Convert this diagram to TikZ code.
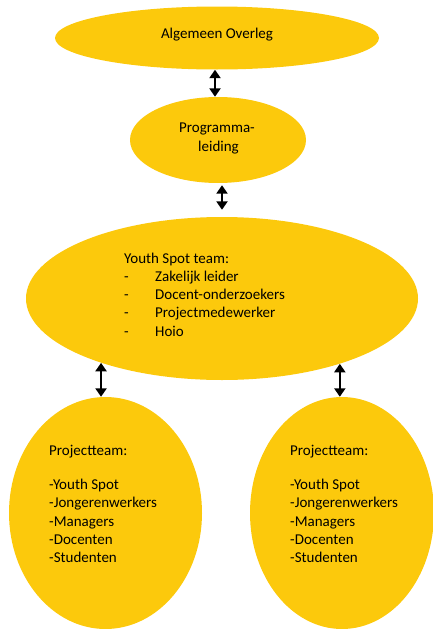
\documentclass[tikz,border=0pt]{standalone}
\usepackage{fontspec}
\setmainfont{Carlito}
\usetikzlibrary{shapes.geometric,arrows.meta}
\definecolor{spotyellow}{HTML}{FCC90C}
\begin{document}
\begin{tikzpicture}
[x=1pt,y=-1pt,%
  blobdecorate/.style={shape=ellipse,fill=spotyellow,draw=none,inner sep=0pt},%
  textdecorate/.style={anchor=base west,inner sep=0pt,text=black,font=\fontsize{15}{18}\selectfont},%
  arrowdecorate/.style={{Triangle[width=11pt,length=8.5pt]}-{Triangle[width=11pt,length=8.5pt]},line width=2.4pt}]
\useasboundingbox (0,0) rectangle (432,629);
%% ellipses
\foreach \nodename/\x/\y/\rx/\ry in {
  overleg/217/38/162/31.5, programma/218/140/88/43,
  youthspot/222/298.5/196/81.5,
  teamleft/105.5/513/96.5/116, teamright/342/513/92/116}
{
  \node (\nodename) at (\x,\y) [blobdecorate,minimum width=2*\rx pt,minimum height=2*\ry pt] {};
}
%% titles
\node (overlegtext) at (217,38) [textdecorate,anchor=base] {Algemeen Overleg};
\node (programmatext) at (217,132) [textdecorate,anchor=base] {Programma-};
\node (leidingtext) at (218.5,151) [textdecorate,anchor=base] {leiding};
%% Youth Spot team list
\node (youthtitle) at (124,263) [textdecorate] {Youth Spot team:};
\foreach \row/\y/\item in {
  1/281/Zakelijk leider, 2/299.5/Docent-onderzoekers,
  3/317.5/Projectmedewerker, 4/336/Hoio}
{
  \node (dash\row) at (124,\y) [textdecorate] {-};
  \node (item\row) at (155,\y) [textdecorate] {\item};
}
%% project teams
\foreach \side/\x in {left/49, right/290}
{
  \node (title\side) at (\x,455) [textdecorate] {Projectteam:};
  \foreach \row/\y/\item in {
    1/489/Youth Spot, 2/507.5/Jongerenwerkers, 3/526/Managers,
    4/544/Docenten, 5/562/Studenten}
  {
    \node (\side\row) at (\x,\y) [textdecorate] {-\item};
  }
}
%% arrows
\draw[arrowdecorate] ([xshift=-2pt]overleg.south) -- ([xshift=-3pt]programma.north);
\draw[arrowdecorate,shorten <=2pt,shorten >=7pt] ([xshift=4pt]programma.south)
  -- ([xshift=4pt]programma.south |- youthspot.north);
\draw[arrowdecorate] (youthspot.208) -- (youthspot.208 |- teamleft.north);
\draw[arrowdecorate] (youthspot.331.7) -- (youthspot.331.7 |- teamright.north);
\end{tikzpicture}
\end{document}
